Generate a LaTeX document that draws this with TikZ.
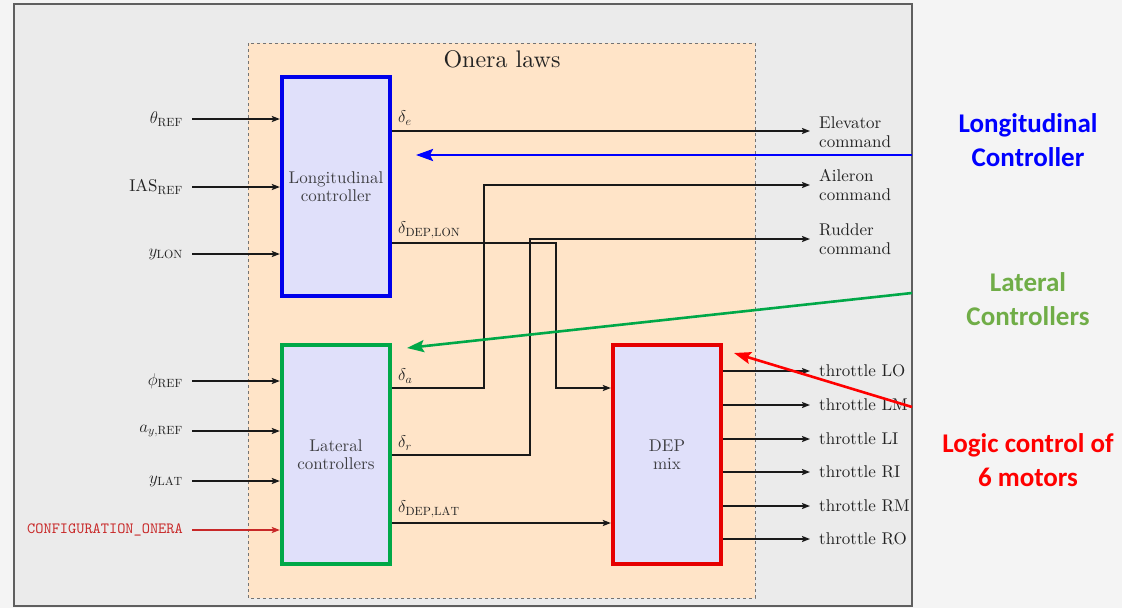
\documentclass[tikz,border=0pt]{standalone}
\usepackage{fix-cm}
\usepackage{fontspec}
\setmainfont{lmroman10-regular}[Extension=.otf, BoldFont=lmroman10-bold, ItalicFont=lmroman10-italic]
\setmonofont{lmmono10-regular}[Extension=.otf]
\newfontfamily\notefont{Carlito}
\usetikzlibrary{arrows.meta}
\definecolor{bgout}{RGB}{244,244,244}
\definecolor{bgin}{RGB}{235,235,235}
\definecolor{framec}{RGB}{95,95,95}
\definecolor{onera}{RGB}{255,228,200}
\definecolor{boxfill}{RGB}{224,224,250}
\definecolor{lonblue}{RGB}{0,0,235}
\definecolor{latgreen}{RGB}{0,168,72}
\definecolor{depred}{RGB}{230,0,0}
\definecolor{notegreen}{RGB}{112,173,71}
\definecolor{notered}{RGB}{255,0,0}
\definecolor{noteblue}{RGB}{0,0,255}
\definecolor{cfgred}{RGB}{200,40,40}
\definecolor{txt}{RGB}{35,35,35}
\begin{document}
\begin{tikzpicture}[x=1pt,y=-1pt,
  every node/.style={font=\fontsize{17}{18.5}\selectfont, text=txt, inner sep=4pt},
  ctrl/.style={draw, line width=4.3pt, fill=boxfill, minimum width=108pt, minimum height=219pt, align=center, inner sep=0pt, text=txt!85!boxfill},
  sig/.style={line width=1.6pt, draw=black!90, -{Stealth[length=8pt,width=6pt,inset=1.5pt]}},
  inlab/.style={anchor=east},
  outlab/.style={anchor=west, align=left},
  note/.style={font=\notefont\bfseries\fontsize{27}{34}\selectfont, align=center},
  notearrow/.style={line width=2.6pt, -{Stealth[length=17pt,width=12pt,inset=3pt]}}
]
\fill[bgout] (0,0) rectangle (1122,608);
\useasboundingbox (0,0) rectangle (1122,608);
\draw[framec, line width=2pt, fill=bgin] (14,4) rectangle (912,606);
\draw[black!55, line width=1pt, dash pattern=on 3pt off 3pt, fill=onera] (248,43) rectangle (755,598);
\node[font=\fontsize{24}{28}\selectfont] (title) at (502,59) {Onera laws};

% blocks
\node[ctrl, draw=lonblue] (lon) at (336,186.5) {Longitudinal\\controller};
\node[ctrl, draw=latgreen] (lat) at (336,454.5) {Lateral\\controllers};
\node[ctrl, draw=depred] (dep) at (667,454.5) {DEP\\mix};

% inputs to longitudinal
\node[inlab] (theta) at (187,119) {$\theta_{\mathrm{REF}}$};
\node[inlab] (ias) at (187,187) {$\mathrm{IAS}_{\mathrm{REF}}$};
\node[inlab] (ylon) at (187,254) {$y_{\mathrm{LON}}$};
\draw[sig] ([xshift=5pt]theta.east) -- (theta.east -| lon.west);
\draw[sig] ([xshift=5pt]ias.east) -- (ias.east -| lon.west);
\draw[sig] ([xshift=5pt]ylon.east) -- (ylon.east -| lon.west);

% inputs to lateral
\node[inlab] (phi) at (187,381) {$\phi_{\mathrm{REF}}$};
\node[inlab] (ay) at (187,431) {$a_{y,\mathrm{REF}}$};
\node[inlab] (ylat) at (187,481) {$y_{\mathrm{LAT}}$};
\node[inlab, text=cfgred, font=\fontsize{15.6}{18}\selectfont] (cfg) at (187,530) {\texttt{CONFIGURATION\_ONERA}};
\draw[sig] ([xshift=5pt]phi.east) -- (phi.east -| lat.west);
\draw[sig] ([xshift=5pt]ay.east) -- (ay.east -| lat.west);
\draw[sig] ([xshift=5pt]ylat.east) -- (ylat.east -| lat.west);
\draw[sig, draw=cfgred] ([xshift=5pt]cfg.east) -- (cfg.east -| lat.west);

% output labels
\node[outlab] (elev) at (815,132) {Elevator\\command};
\node[outlab] (ail) at (815,185) {Aileron\\command};
\node[outlab] (rud) at (815,239) {Rudder\\command};

% delta labels
\node[anchor=west] (lde) at (394,118) {$\delta_e$};
\node[anchor=west] (ldlon) at (394,230) {$\delta_{\mathrm{DEP,LON}}$};
\node[anchor=west] (lda) at (394,376) {$\delta_a$};
\node[anchor=west] (ldr) at (394,443) {$\delta_r$};
\node[anchor=west] (ldlat) at (394,509) {$\delta_{\mathrm{DEP,LAT}}$};

\coordinate (cde) at (lon.east |- 0,131);
\coordinate (cdlon) at (lon.east |- 0,243);
\coordinate (cda) at (lat.east |- 0,388);
\coordinate (cdr) at (lat.east |- 0,455);
\coordinate (cdlat) at (lat.east |- 0,523);

\draw[sig] (cde) -- ([xshift=-5pt]elev.west |- cde);
\draw[sig] (cda) -- (484,388) |- ([xshift=-5pt]ail.west);
\draw[sig] (cdr) -- (530,455) |- ([xshift=-5pt]rud.west);
\draw[sig] (cdlon) -- (556,243) |- (dep.west |- 0,388);
\draw[sig] (cdlat) -- (dep.west |- cdlat);

% throttles
\node[outlab] (tLO) at (815,371) {throttle LO};
\node[outlab] (tLM) at (815,405) {throttle LM};
\node[outlab] (tLI) at (815,439) {throttle LI};
\node[outlab] (tRI) at (815,472) {throttle RI};
\node[outlab] (tRM) at (815,506) {throttle RM};
\node[outlab] (tRO) at (815,539) {throttle RO};
\foreach \t in {tLO,tLM,tLI,tRI,tRM,tRO}{
  \draw[sig] (dep.east |- \t.west) -- ([xshift=-5pt]\t.west);
}

% annotations
\node[note, text=noteblue] (nlon) at (1028,140) {Longitudinal\\Controller};
\node[note, text=notegreen] (nlat) at (1028,299.5) {Lateral\\Controllers};
\node[note, text=notered] (ndep) at (1028,460) {Logic control of\\6 motors};

\coordinate (bS) at (912,155);
\coordinate (bE) at (416,155);
\coordinate (gS) at (912,293);
\coordinate (gE) at (407,348);
\coordinate (rS) at (912,407);
\coordinate (rE) at (734,353);
\draw[notearrow, draw=noteblue, fill=noteblue] (bS) -- (bE);
\draw[notearrow, draw=latgreen, fill=latgreen] (gS) -- (gE);
\draw[notearrow, draw=notered, fill=notered] (rS) -- (rE);
\end{tikzpicture}
\end{document}
